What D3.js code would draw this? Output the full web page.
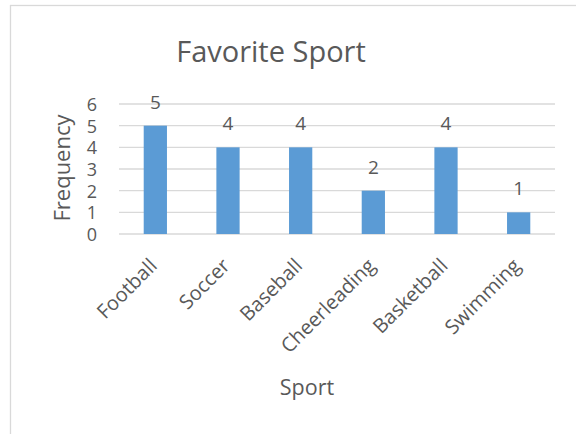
<!DOCTYPE html>
<html>
<head>
<meta charset="utf-8">
<script src="https://cdn.jsdelivr.net/npm/d3@7"></script>
<style>
	body { margin: 0; background: #fff; }
	text { font-family: "Open Sans", sans-serif; fill: #595959; }
</style>
</head>
<body>
<svg class="mainsvg" width="576" height="434"></svg>
<script>
var sports = ["Football", "Soccer", "Baseball", "Cheerleading", "Basketball", "Swimming"];
var frequency = [5, 4, 4, 2, 4, 1];
var yTicks = [0, 1, 2, 3, 4, 5, 6];

var _width = 576, _height = 434;
var margin = {top: 104, right: 21, bottom: 200, left: 119};
var svg = d3.select('.mainsvg');

// chart border
svg.append('rect')
	.attr('x', 10.5)
	.attr('y', 5.5)
	.attr('width', 600)
	.attr('height', 500)
	.attr('fill', 'none')
	.attr('stroke', '#d9d9d9')
	.attr('stroke-width', 1.3)

var x = d3.scaleBand()
	.domain(sports)
	.range([margin.left, _width - margin.right])
	.padding(0)

var y = d3.scaleLinear()
	.domain([0, 6])
	.range([_height - margin.bottom, margin.top])

// gridlines
svg.append('g')
	.selectAll('line')
	.data(yTicks)
	.enter()
	.append('line')
	.attr('x1', margin.left)
	.attr('x2', _width - margin.right)
	.attr('y1', d => y(d))
	.attr('y2', d => y(d))
	.attr('stroke', '#d9d9d9')
	.attr('stroke-width', 1.3)

// y axis labels
var yAxis = d3.axisLeft(y).tickValues(yTicks).tickFormat(d3.format('d')).tickSize(0).tickPadding(0);
svg.append('g')
	.attr('transform', 'translate(' + (margin.left - 22) + ',0)')
	.call(yAxis)
	.call(g => g.select('.domain').remove())
	.selectAll('text')
	.attr('font-size', '18px')
	.attr('font-family', '"Open Sans", sans-serif')
	.attr('fill', '#595959')
	.attr('dy', '0.36em')

// bars
var barW = x.bandwidth() * 0.32;
svg.append('g')
	.selectAll('rect')
	.data(sports)
	.enter()
	.append('rect')
	.attr('x', (d, i) => x(d) + x.bandwidth() / 2 - barW / 2)
	.attr('y', (d, i) => y(frequency[i]))
	.attr('width', barW)
	.attr('height', (d, i) => y(0) - y(frequency[i]))
	.attr('fill', '#5b9bd5')

// data labels
svg.append('g')
	.selectAll('text')
	.data(sports)
	.enter()
	.append('text')
	.attr('x', d => x(d) + x.bandwidth() / 2)
	.attr('y', (d, i) => y(frequency[i]) - 17)
	.attr('font-size', '19px')
	.style('text-anchor', 'middle')
	.text((d, i) => frequency[i])

// x axis labels
svg.append('g')
	.selectAll('text')
	.data(sports)
	.enter()
	.append('text')
	.attr('transform', d => 'translate(' + (x(d) + x.bandwidth() / 2 + 3) + ',' + (y(0) + 33) + ') rotate(-45)')
	.attr('font-size', '20px')
	.style('text-anchor', 'end')
	.text(d => d)

// title
svg.append('text')
	.attr('x', 271)
	.attr('y', 62)
	.attr('font-size', '29px')
	.style('text-anchor', 'middle')
	.text('Favorite Sport')

// axis titles
svg.append('text')
	.attr('x', 307)
	.attr('y', 395)
	.attr('font-size', '21.5px')
	.style('text-anchor', 'middle')
	.text('Sport')

svg.append('text')
	.attr('transform', 'translate(70,168) rotate(-90)')
	.attr('font-size', '22px')
	.style('text-anchor', 'middle')
	.text('Frequency')
</script>
</body>
</html>
